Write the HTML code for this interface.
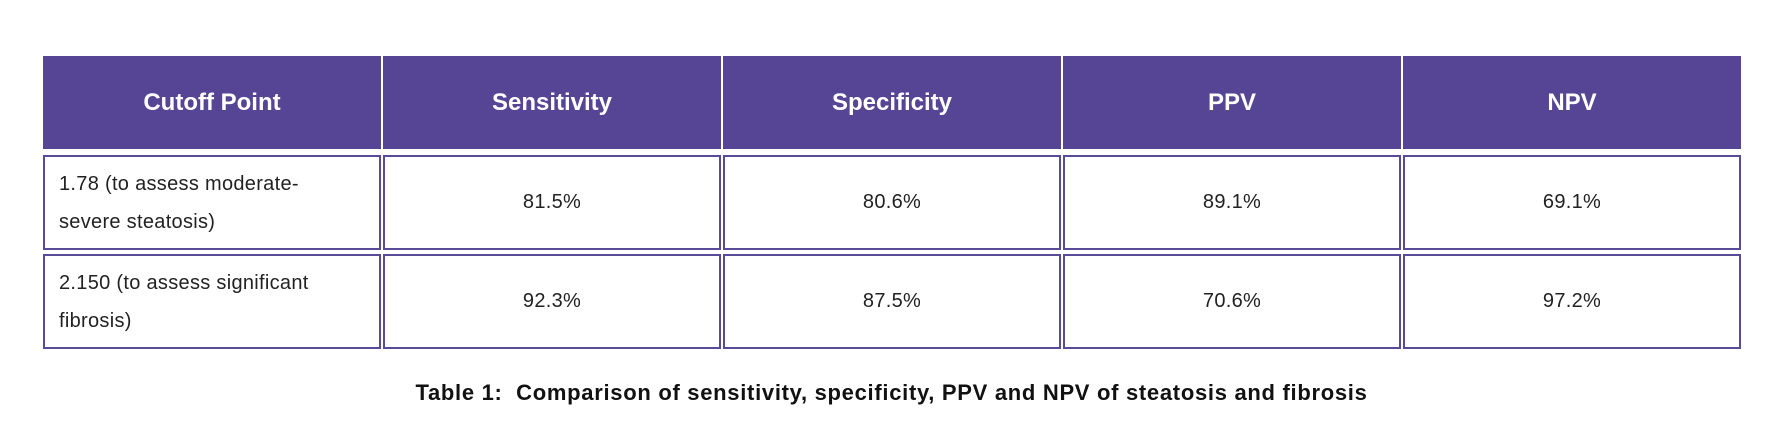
<!DOCTYPE html>
<html><head><meta charset="utf-8"><style>
body{margin:0;width:1783px;height:440px;background:#fff;font-family:"Liberation Sans",sans-serif;position:relative;overflow:hidden}
.c{position:absolute;box-sizing:border-box;display:flex;align-items:center;justify-content:center;text-align:center}
.h{background:#564595;color:#fff;font-weight:bold;font-size:24px;top:56px;height:93px}
.b{border:2px solid #5a4b98;background:#fff;color:#222;font-size:20px;height:95px;letter-spacing:0.3px}
.l{justify-content:flex-start;text-align:left;padding-left:14px;line-height:38px}
.r1{top:155px}.r2{top:254px}
.cap{position:absolute;top:380px;left:0;width:1783px;text-align:center;font-weight:bold;font-size:22px;letter-spacing:0.7px;color:#111}
</style></head><body>
<div class="c h" style="left:43px;width:338px">Cutoff Point</div>
<div class="c h" style="left:383px;width:338px">Sensitivity</div>
<div class="c h" style="left:723px;width:338px">Specificity</div>
<div class="c h" style="left:1063px;width:338px">PPV</div>
<div class="c h" style="left:1403px;width:338px">NPV</div>

<div class="c b l r1" style="left:43px;width:338px">1.78 (to assess moderate-<br>severe steatosis)</div>
<div class="c b r1" style="left:383px;width:338px">81.5%</div>
<div class="c b r1" style="left:723px;width:338px">80.6%</div>
<div class="c b r1" style="left:1063px;width:338px">89.1%</div>
<div class="c b r1" style="left:1403px;width:338px">69.1%</div>

<div class="c b l r2" style="left:43px;width:338px">2.150 (to assess significant<br>fibrosis)</div>
<div class="c b r2" style="left:383px;width:338px">92.3%</div>
<div class="c b r2" style="left:723px;width:338px">87.5%</div>
<div class="c b r2" style="left:1063px;width:338px">70.6%</div>
<div class="c b r2" style="left:1403px;width:338px">97.2%</div>

<div class="cap">Table 1:&nbsp; Comparison of sensitivity, specificity, PPV and NPV of steatosis and fibrosis</div>
</body></html>
